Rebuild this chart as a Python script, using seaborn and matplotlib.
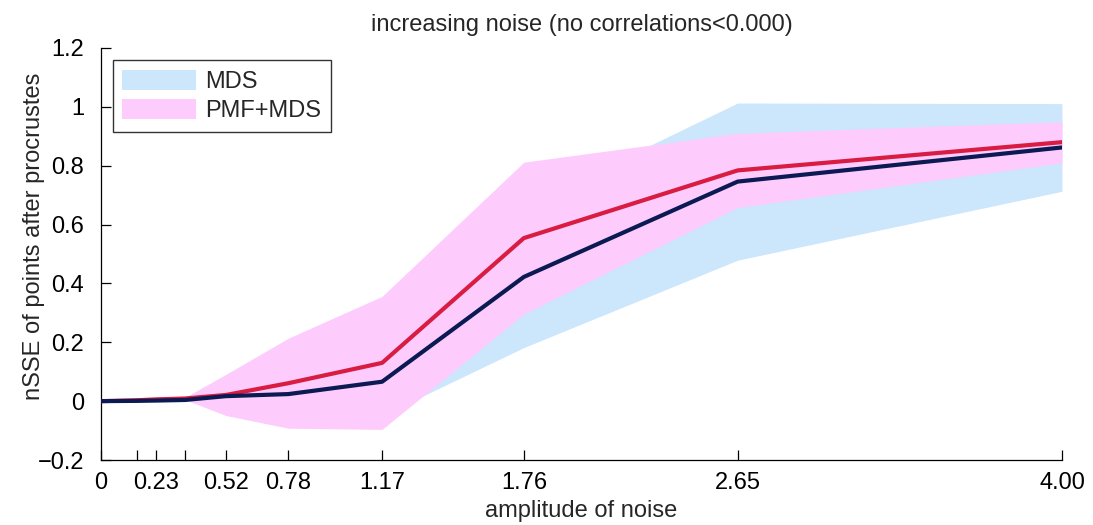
import matplotlib
matplotlib.use("Agg")
import matplotlib.pyplot as plt
from matplotlib.patches import Patch
import seaborn as sns
import pandas as pd
import numpy as np

# ---- data ----
noise = [0, 0.15, 0.23, 0.35, 0.52, 0.78, 1.17, 1.76, 2.65, 4.00]
tick_labels = ["0", "", "0.23", "", "0.52", "0.78", "1.17", "1.76", "2.65", "4.00"]
mds_mean = [0, 0.001, 0.002, 0.004, 0.017, 0.024, 0.066, 0.422, 0.746, 0.862]
mds_std = [0, 0.001, 0.002, 0.003, 0.030, 0.050, 0.115, 0.240, 0.267, 0.149]
pmf_mean = [0, 0.003, 0.006, 0.009, 0.021, 0.061, 0.130, 0.554, 0.784, 0.880]
pmf_std = [0, 0.001, 0.002, 0.004, 0.070, 0.153, 0.226, 0.258, 0.126, 0.070]
series = ["MDS", "PMF+MDS"]

sns.set_theme(style="white")
plt.rcParams["font.family"] = ["Liberation Sans", "DejaVu Sans"]

navy = "#0b1a52"
red = "#d91c41"
blue_fill = "#cce6fc"
pink_fill = "#fdccfd"

fig = plt.figure(figsize=(10.93, 5.25), dpi=100)
ax = fig.add_axes([0.0924, 0.1238, 0.9716 - 0.0924, 0.9086 - 0.1238])

x = np.array(noise)
mm, ms = np.array(mds_mean), np.array(mds_std)
pm, ps = np.array(pmf_mean), np.array(pmf_std)
ax.fill_between(x, mm - ms, mm + ms, color=blue_fill, linewidth=0, zorder=1)
ax.fill_between(x, pm - ps, pm + ps, color=pink_fill, linewidth=0, zorder=2)

df = pd.DataFrame({
    "noise": noise * 2,
    "value": pmf_mean + mds_mean,
    "method": ["PMF+MDS"] * len(noise) + ["MDS"] * len(noise),
})
sns.lineplot(data=df, x="noise", y="value", hue="method",
             palette={"PMF+MDS": red, "MDS": navy},
             hue_order=["PMF+MDS", "MDS"], linewidth=3.0, legend=False,
             ax=ax, zorder=3)

ax.set_xlim(0, 4.0)
ax.set_ylim(-0.2, 1.2)
ax.set_xticks(noise)
ax.set_xticklabels(tick_labels)
ax.set_yticks([-0.2, 0, 0.2, 0.4, 0.6, 0.8, 1.0, 1.2])
ax.set_yticklabels(["\u22120.2", "0", "0.2", "0.4", "0.6", "0.8", "1", "1.2"])
ax.tick_params(axis="both", direction="in", length=7, width=0.9,
               labelsize=17, colors="black")
ax.tick_params(axis="x", bottom=True, pad=8.5)
ax.tick_params(axis="y", left=True, pad=12)
for s in ["top", "right"]:
    ax.spines[s].set_visible(False)
for s in ["left", "bottom"]:
    ax.spines[s].set_color("black")
    ax.spines[s].set_linewidth(0.9)

ax.set_xlabel("amplitude of noise", fontsize=17, labelpad=4.5)
ax.set_ylabel("nSSE of points after procrustes", fontsize=17)
ax.yaxis.set_label_coords(-0.058, 0.543)
ax.set_title("increasing noise (no correlations<0.000)", fontsize=17, pad=12)

handles = [Patch(facecolor=blue_fill, edgecolor="none", label=series[0]),
           Patch(facecolor=pink_fill, edgecolor="none", label=series[1])]
leg = ax.legend(handles=handles, loc="upper left", bbox_to_anchor=(0.0125, 0.97),
                fontsize=17, frameon=True, fancybox=False, handlelength=3.1,
                handleheight=0.95, handletextpad=0.4, borderpad=0.4,
                labelspacing=0.25, borderaxespad=0)
leg.get_frame().set_edgecolor("black")
leg.get_frame().set_linewidth(1.0)

fig.savefig("out.png", dpi=100)
